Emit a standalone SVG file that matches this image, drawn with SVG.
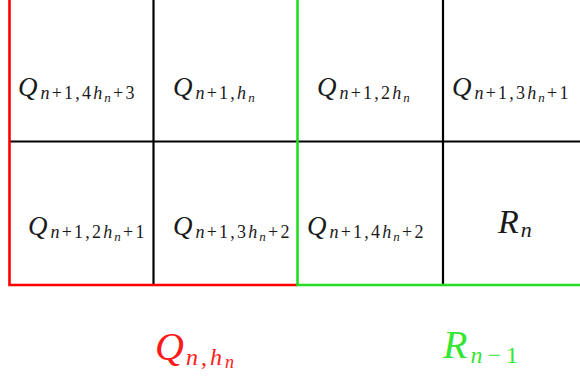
<svg xmlns="http://www.w3.org/2000/svg" width="580" height="379" viewBox="0 0 580 379">
<style>
.bg{fill:#fff}
.grid{stroke:#000;stroke-width:2.2;fill:none}
.red{stroke:#ff0000;stroke-width:2.6;fill:none}
.green{stroke:#22dd22;stroke-width:2.6;fill:none}
text{font-family:"Liberation Serif","Times New Roman",serif;fill:#1a1a1a}
.i{font-style:italic}
.lab{font-size:27px;letter-spacing:0}
.s{font-size:18px;letter-spacing:2.2px}
.ss{font-size:13px;letter-spacing:2.2px}
.rq{fill:#ff1a1a}
.gr{fill:#33e633}
</style>
<rect class="bg" x="0" y="0" width="580" height="379"/>
<g id="connectors">
<line class="grid" x1="9" y1="141.5" x2="580" y2="141.5"/>
<line class="grid" x1="153.5" y1="0" x2="153.5" y2="285"/>
<line class="grid" x1="443" y1="0" x2="443" y2="285"/>
<polyline class="red" points="9.5,0 9.5,285 297.5,285"/>
<polyline class="green" points="297.5,0 297.5,285 580,285"/>
</g>
<g id="cell-q-4hn3">
<text x="18" y="96"><tspan class="i lab">Q</tspan><tspan class="s" dx="3" dy="3"><tspan class="i">n</tspan>+1,4<tspan class="i">h</tspan></tspan><tspan class="ss i" dy="3">n</tspan><tspan class="s" dy="-3">+3</tspan></text>
</g>
<g id="cell-q-hn">
<text x="173" y="96"><tspan class="i lab">Q</tspan><tspan class="s" dx="3" dy="3"><tspan class="i">n</tspan>+1,<tspan class="i">h</tspan></tspan><tspan class="ss i" dy="3">n</tspan></text>
</g>
<g id="cell-q-2hn">
<text x="317" y="96"><tspan class="i lab">Q</tspan><tspan class="s" dx="3" dy="3"><tspan class="i">n</tspan>+1,2<tspan class="i">h</tspan></tspan><tspan class="ss i" dy="3">n</tspan></text>
</g>
<g id="cell-q-3hn1">
<text x="452" y="96"><tspan class="i lab">Q</tspan><tspan class="s" dx="3" dy="3"><tspan class="i">n</tspan>+1,3<tspan class="i">h</tspan></tspan><tspan class="ss i" dy="3">n</tspan><tspan class="s" dy="-3">+1</tspan></text>
</g>
<g id="cell-q-2hn1">
<text x="28" y="235"><tspan class="i lab">Q</tspan><tspan class="s" dx="3" dy="3"><tspan class="i">n</tspan>+1,2<tspan class="i">h</tspan></tspan><tspan class="ss i" dy="3">n</tspan><tspan class="s" dy="-3">+1</tspan></text>
</g>
<g id="cell-q-3hn2">
<text x="173" y="235"><tspan class="i lab">Q</tspan><tspan class="s" dx="3" dy="3"><tspan class="i">n</tspan>+1,3<tspan class="i">h</tspan></tspan><tspan class="ss i" dy="3">n</tspan><tspan class="s" dy="-3">+2</tspan></text>
</g>
<g id="cell-q-4hn2">
<text x="307" y="235"><tspan class="i lab">Q</tspan><tspan class="s" dx="3" dy="3"><tspan class="i">n</tspan>+1,4<tspan class="i">h</tspan></tspan><tspan class="ss i" dy="3">n</tspan><tspan class="s" dy="-3">+2</tspan></text>
</g>
<g id="cell-rn">
<text x="498" y="233"><tspan class="i" font-size="34">R</tspan><tspan class="i" font-size="22" dx="2" dy="4">n</tspan></text>
</g>
<g id="label-q-nhn">
<text x="155" y="360" class="rq"><tspan class="i" font-size="40">Q</tspan><tspan font-size="24" letter-spacing="3" dx="2" dy="5"><tspan class="i">n</tspan>,<tspan class="i">h</tspan></tspan><tspan class="i" font-size="18" dy="3">n</tspan></text>
</g>
<g id="label-r-n1">
<text x="443" y="358" class="gr"><tspan class="i" font-size="40">R</tspan><tspan font-size="24" letter-spacing="5" dx="3" dy="5"><tspan class="i">n</tspan>−1</tspan></text>
</g>
</svg>
